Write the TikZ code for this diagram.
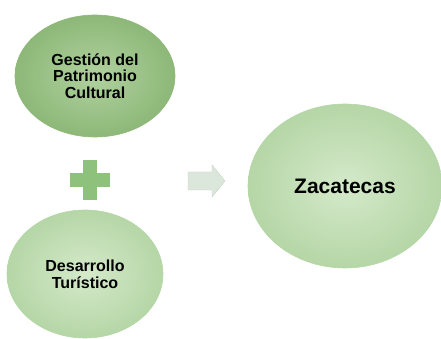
\documentclass[tikz,border=0pt]{standalone}
\usepackage{fontspec}
\setmainfont{Liberation Sans}
\usetikzlibrary{shapes.geometric, positioning, calc}
\definecolor{topgreen}{HTML}{A2C98E}
\definecolor{topedge}{HTML}{8DB878}
\definecolor{palegreen}{HTML}{CDE6C1}
\definecolor{paleedge}{HTML}{B5D6A6}
\definecolor{plusgreen}{HTML}{8EC27C}
\definecolor{arrowgray}{HTML}{DCE7DC}
\definecolor{arrowedge}{HTML}{C3D3C3}

\tikzset{
  blob/.style={ellipse, inner sep=0pt, align=center, font=\bfseries\fontsize{16}{16.7}\selectfont},
  darkblob/.style={blob, draw=topedge, line width=0.6pt, inner color=topgreen!85!white, outer color=topedge},
  paleblob/.style={blob, draw=paleedge, line width=0.6pt, inner color=palegreen!85!white, outer color=paleedge}
}

\begin{document}
\begin{tikzpicture}[x=1pt,y=1pt]
    \useasboundingbox (0,0) rectangle (441,339);
    % the two ingredients
    \node[darkblob, minimum width=160pt, minimum height=122pt] (gestion) at (95,263) {Gestión del\\Patrimonio\\Cultural};
    \node[paleblob, minimum width=156pt, minimum height=128pt] (turismo) at (85,65) {Desarrollo\\Turístico};
    % the result
    \node[paleblob, minimum width=194pt, minimum height=164pt, font=\bfseries\fontsize{21}{24}\selectfont] (zacatecas) at (345,153) {Zacatecas};
    % plus sign
    \coordinate (plus) at (90,159);
    \fill[plusgreen] ($(plus)+(-7,-20)$) rectangle ($(plus)+(7,20)$);
    \fill[plusgreen] ($(plus)+(-20,-7)$) rectangle ($(plus)+(20,7)$);
    % arrow
    \coordinate (arrow) at (188,158);
    \filldraw[fill=arrowgray, draw=arrowedge, line width=0.4pt]
        ($(arrow)+(0,-9)$) -- ++(24,0) -- ++(0,-7) -- ($(arrow)+(37,0)$)
        -- ($(arrow)+(24,16)$) -- ++(0,-7) -- ($(arrow)+(0,9)$) -- cycle;
\end{tikzpicture}
\end{document}
